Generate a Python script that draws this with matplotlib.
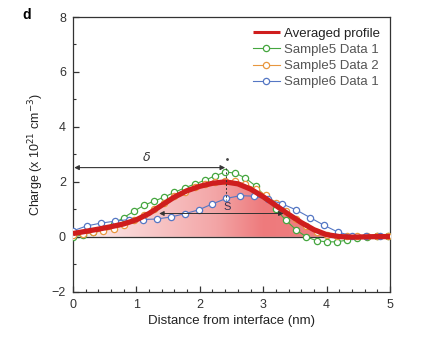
import numpy as np
import matplotlib
matplotlib.use('Agg')
import matplotlib.pyplot as plt
from matplotlib.colors import LinearSegmentedColormap

plt.rcParams['font.family'] = ['Liberation Sans', 'DejaVu Sans']

# Averaged profile
avg_x = [0.0, 0.2, 0.4, 0.6, 0.8, 1.0, 1.2, 1.4, 1.6, 1.8, 2.0, 2.2, 2.4, 2.6,
         2.8, 3.0, 3.2, 3.4, 3.6, 3.8, 4.0, 4.2, 4.4, 4.6, 4.8, 5.0]
avg_y = [0.12, 0.2, 0.28, 0.37, 0.47, 0.62, 0.85, 1.15, 1.45, 1.68, 1.84, 1.95, 2.0, 1.93,
         1.74, 1.46, 1.14, 0.82, 0.52, 0.26, 0.08, 0.01, -0.01, 0.0, 0.01, 0.01]

# Sample5 Data 1 / Data 2 share positions
s5_x = [0.0, 0.16, 0.32, 0.48, 0.64, 0.8, 0.96, 1.12, 1.28, 1.44, 1.6, 1.76, 1.92, 2.08,
        2.24, 2.4, 2.56, 2.72, 2.88, 3.04, 3.2, 3.36, 3.52, 3.68, 3.84, 4.0, 4.16, 4.32,
        4.48, 4.64, 4.8, 4.96]
s5d1_y = [0.0, 0.08, 0.18, 0.3, 0.48, 0.7, 0.93, 1.15, 1.3, 1.45, 1.62, 1.78, 1.92, 2.06,
          2.22, 2.36, 2.32, 2.14, 1.85, 1.45, 1.0, 0.6, 0.25, 0.0, -0.14, -0.18, -0.18, -0.12,
          -0.05, 0.0, 0.02, 0.02]
s5d2_y = [0.05, 0.1, 0.16, 0.22, 0.3, 0.42, 0.6, 0.8, 1.02, 1.25, 1.47, 1.65, 1.8, 1.92,
          2.0, 2.05, 2.02, 1.92, 1.75, 1.52, 1.25, 0.95, 0.65, 0.38, 0.18, 0.06, 0.02, 0.02,
          0.03, 0.04, 0.04, 0.04]

# Sample6 Data 1
s6_x = [0.0, 0.22, 0.44, 0.66, 0.88, 1.1, 1.32, 1.54, 1.76, 1.98, 2.2, 2.42, 2.64, 2.86,
        3.08, 3.3, 3.52, 3.74, 3.96, 4.18, 4.4, 4.62, 4.84]
s6_y = [0.22, 0.4, 0.5, 0.57, 0.63, 0.63, 0.65, 0.72, 0.84, 0.98, 1.2, 1.4, 1.5, 1.48,
        1.36, 1.2, 0.98, 0.7, 0.42, 0.17, 0.04, 0.02, 0.02]

fig = plt.figure(figsize=(4.24, 3.47), dpi=100)
ax = fig.add_axes([0.172, 0.159, 0.748, 0.792])

# gradient fill under averaged profile
fill = ax.fill_between(avg_x, avg_y, 0, facecolor='none', edgecolor='none')
cmap = LinearSegmentedColormap.from_list('pinkgrad', [(0.0, '#fdf3f3'), (0.45, '#f3a5a6'),
                                                    (0.6, '#ee7a7c'), (1.0, '#f08486')])
grad = np.linspace(0, 1, 256).reshape(1, -1)
im = ax.imshow(grad, cmap=cmap, extent=[0, 5, -0.1, 2.2], aspect='auto', zorder=1)
im.set_clip_path(fill.get_paths()[0], transform=ax.transData)

ax.axhline(0, color='#333333', lw=0.9, zorder=2)

mk = dict(marker='o', markersize=4.5, markerfacecolor='white', markeredgewidth=0.9, lw=0.8)
ax.plot(s5_x, s5d1_y, color='#45a63f', label='Sample5 Data 1', zorder=3, **mk)
ax.plot(s5_x, s5d2_y, color='#e8973f', label='Sample5 Data 2', zorder=3, **mk)
ax.plot(s6_x, s6_y, color='#5577c4', label='Sample6 Data 1', zorder=3, **mk)
ax.plot(avg_x, avg_y, color='#cf1d1d', lw=3.8, label='Averaged profile', zorder=4,
        solid_capstyle='butt')

# annotations
ax.annotate('', xy=(0.02, 2.52), xytext=(2.4, 2.52),
            arrowprops=dict(arrowstyle='<|-|>', color='#333333', lw=0.8,
                            mutation_scale=7, shrinkA=0, shrinkB=0), zorder=5)
ax.text(1.16, 2.9, r'$\delta$', fontsize=9, color='#333333', ha='center', va='center')
ax.plot([2.42, 2.42], [2.5, 1.35], color='#333333', lw=0.7, ls=(0, (2, 2)), zorder=5)
ax.plot([2.43], [2.85], marker='.', color='#444444', markersize=2, zorder=5)
ax.annotate('', xy=(1.36, 0.85), xytext=(3.32, 0.85),
            arrowprops=dict(arrowstyle='<|-|>', color='#333333', lw=0.7,
                            mutation_scale=7, shrinkA=0, shrinkB=0), zorder=5)
ax.text(2.43, 1.07, 'S', fontsize=8, color='#333355', ha='center', va='center', zorder=5)

ax.set_xlim(0, 5)
ax.set_ylim(-2, 8)
ax.set_xticks([0, 1, 2, 3, 4, 5])
ax.set_xticks(np.arange(0, 5.01, 0.2), minor=True)
ax.set_yticks([-2, 0, 2, 4, 6, 8])
ax.set_yticks([-1, 1, 3, 5, 7], minor=True)
ax.tick_params(which='both', direction='in', top=False, right=False, labelsize=9,
               colors='#333333', pad=5)
ax.tick_params(which='major', length=4, width=0.9)
ax.tick_params(which='minor', length=2.5, width=0.8)
for s in ax.spines.values():
    s.set_color('#333333')
    s.set_linewidth(0.9)

ax.set_xlabel('Distance from interface (nm)', fontsize=9.5, color='#222222', labelpad=3)
ax.set_ylabel('Charge (x 10$^{21}$ cm$^{-3}$)', fontsize=9, color='#222222', labelpad=4)

h, l = ax.get_legend_handles_labels()
order = [3, 0, 1, 2]
leg = ax.legend([h[i] for i in order], [l[i] for i in order], loc='upper right',
                frameon=False, fontsize=9.5, handlelength=2.0, handletextpad=0.3,
                labelspacing=0.3, borderaxespad=0.5, borderpad=0.3)
leg.get_lines()[0].set_linewidth(2.2)
for t in leg.get_texts():
    t.set_color('#555555')
leg.get_texts()[0].set_color('#222222')

fig.text(27 / 424, 1 - 15 / 347, 'd', fontsize=10, fontweight='bold', ha='center', va='center')

fig.savefig('out.png', dpi=100)
